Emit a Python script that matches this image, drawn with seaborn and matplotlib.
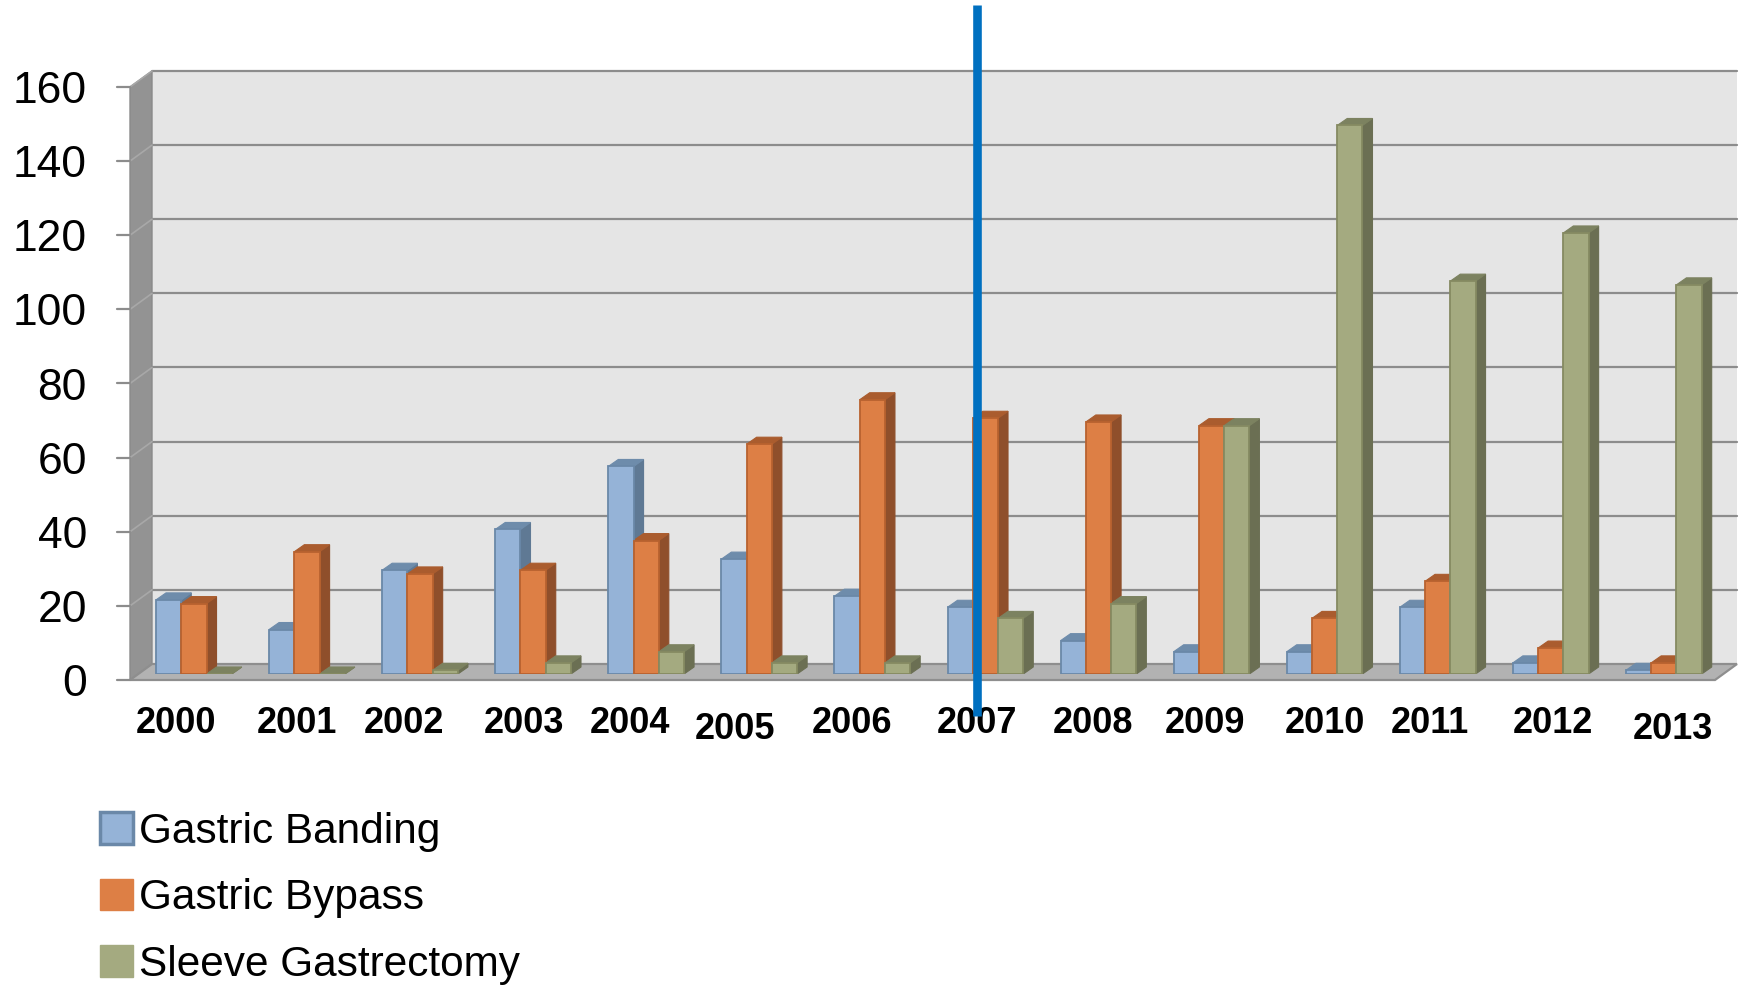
import matplotlib
matplotlib.use("Agg")
import matplotlib.pyplot as plt
from matplotlib.patches import Polygon, Patch
from matplotlib.transforms import ScaledTranslation
import seaborn as sns
import pandas as pd

# ---- data -------------------------------------------------------------
years = ["2000", "2001", "2002", "2003", "2004", "2005", "2006",
         "2007", "2008", "2009", "2010", "2011", "2012", "2013"]
procedures = ["Gastric Banding", "Gastric Bypass", "Sleeve Gastrectomy"]
banding = [20, 12, 28, 39, 56, 31, 21, 18, 9, 6, 6, 18, 3, 1]
bypass = [19, 33, 27, 28, 36, 62, 74, 69, 68, 67, 15, 25, 7, 3]
sleeve = [0, 0, 1, 3, 6, 3, 3, 15, 19, 67, 148, 106, 119, 105]
y_ticks = [0, 20, 40, 60, 80, 100, 120, 140, 160]
marker_year = "2007"

# ---- styling ----------------------------------------------------------
front_colors = ["#95b3d7", "#dd7f45", "#a4aa80"]
edge_colors = ["#6a88a8", "#b8622f", "#858a62"]
side_colors = ["#5f7994", "#8f4f2b", "#6b6f53"]
top_colors = ["#6e8cab", "#aa5c2e", "#7c8260"]
# hand-placed nudges of the year labels (pixels: right, up)
label_nudge_x = [-10, -2, -8, -1, -8, -16, -12, 0, 3, 1, 8, 0, 10, 17]
label_nudge_y = [0, 0, 0, 0, 0, -6, 0, 0, 0, 0, 0, 0, 0, -6]

sns.set_style("white")
plt.rcParams["font.family"] = ["Liberation Sans", "DejaVu Sans"]
plt.rcParams["text.color"] = "black"

W, H, DPI = 1740, 988, 100
fig = plt.figure(figsize=(W / DPI, H / DPI), dpi=DPI)
fig.patch.set_facecolor("white")
ax = fig.add_axes([138 / W, 1 - 674 / H, 1585 / W, 593 / H])

df = pd.DataFrame({
    "year": years * 3,
    "count": banding + bypass + sleeve,
    "procedure": [p for p in procedures for _ in years],
})

sns.barplot(data=df, x="year", y="count", hue="procedure",
            order=years, hue_order=procedures,
            palette=dict(zip(procedures, front_colors)),
            saturation=1, width=0.67, dodge=True, legend=False,
            linewidth=1.3, ax=ax, zorder=3)

x0, x1 = -0.4944, 13.5235
ymax = y_ticks[-1]
ax.set_xlim(x0, x1)
ax.set_ylim(0, ymax)
ax.patch.set_visible(False)
for s in ax.spines.values():
    s.set_visible(False)
ax.grid(False)

# pixel -> data conversion for the pseudo 3-D depth
sx = (1585 / (x1 - x0))
sy = 593 / ymax
def px(dx, dy):
    return dx / sx, dy / sy

fdx, fdy = px(-8, -6)     # front plane
bdx, bdy = px(14, 10)     # back wall
ddx, ddy = px(10, 7)      # bar depth

wall_kw = dict(clip_on=False, zorder=0.5)
# back wall
ax.add_patch(Polygon([(x0 + bdx, bdy), (x1 + bdx, bdy),
                      (x1 + bdx, ymax + bdy), (x0 + bdx, ymax + bdy)],
                     closed=True, facecolor="#e5e5e5", edgecolor="none", **wall_kw))
# side wall
ax.add_patch(Polygon([(x0 + fdx, fdy), (x0 + fdx, ymax + fdy),
                      (x0 + bdx, ymax + bdy), (x0 + bdx, bdy)],
                     closed=True, facecolor="#939393", edgecolor="#8a8a8a",
                     linewidth=1, **wall_kw))
# gridlines on back wall + side wall
for v in y_ticks[1:]:
    ax.plot([x0 + bdx, x1 + bdx], [v + bdy, v + bdy], color="#8c8c8c",
            lw=1.6, clip_on=False, zorder=0.8)
    ax.plot([x0 + fdx, x0 + bdx], [v + fdy, v + bdy], color="#a8a8a8",
            lw=1.2, clip_on=False, zorder=0.8)
# floor
ax.add_patch(Polygon([(x0 + fdx, fdy), (x1 + fdx, fdy),
                      (x1 + bdx, bdy), (x0 + bdx, bdy)],
                     closed=True, facecolor="#b2b2b2", edgecolor="#8e8e8e",
                     linewidth=1.6, clip_on=False, zorder=0.9))
# front tick marks
tick_len, _ = px(13, 0)
for v in y_ticks:
    ax.plot([x0 + fdx - tick_len, x0 + fdx], [v + fdy, v + fdy],
            color="#8c8c8c", lw=1.6, clip_on=False, zorder=0.9)

# depth faces (side + top) built from each drawn bar
for container, sc, tc, ec in zip(ax.containers, side_colors, top_colors, edge_colors):
    for bar in container:
        bar.set_edgecolor(ec)
        bx, bw, bh = bar.get_x(), bar.get_width(), bar.get_height()
        side = Polygon([(bx + bw, 0), (bx + bw + ddx, ddy),
                        (bx + bw + ddx, bh + ddy), (bx + bw, bh)],
                       closed=True, facecolor=sc, edgecolor=sc,
                       linewidth=0.8, zorder=2.5)
        top = Polygon([(bx, bh), (bx + ddx, bh + ddy),
                       (bx + bw + ddx, bh + ddy), (bx + bw, bh)],
                      closed=True, facecolor=tc, edgecolor=tc,
                      linewidth=0.8, zorder=2.5)
        ax.add_patch(side)
        ax.add_patch(top)

# ---- ticks --------------------------------------------------------------
ax.set_yticks(y_ticks)
ax.set_yticklabels([str(v) for v in y_ticks], fontsize=32, color="black")
ax.set_xticks(range(len(years)))
ax.set_xticklabels(years, fontsize=26, fontweight="bold", color="black")
ax.tick_params(axis="both", length=0)
ax.tick_params(axis="y", pad=31)
ax.tick_params(axis="x", pad=19)
ax.set_xlabel("")
ax.set_ylabel("")
for lab in ax.get_yticklabels():
    lab.set_transform(lab.get_transform() +
                      ScaledTranslation(-8 / DPI, -6 / DPI, fig.dpi_scale_trans))
for lab, nx, ny in zip(ax.get_xticklabels(), label_nudge_x, label_nudge_y):
    lab.set_transform(lab.get_transform() +
                      ScaledTranslation((nx - 8) / DPI, (ny - 6) / DPI,
                                        fig.dpi_scale_trans))

# ---- vertical marker line -------------------------------------------------
mx = years.index(marker_year) + fdx
ax.plot([mx, mx], [-0.071, 1.128], transform=ax.get_xaxis_transform(),
        color="#0070c0", lw=6.2, clip_on=False, zorder=10,
        solid_capstyle="butt")

# ---- legend ---------------------------------------------------------------
handles = [Patch(facecolor=front_colors[0], edgecolor=edge_colors[0], linewidth=2.5),
           Patch(facecolor=front_colors[1], edgecolor=front_colors[1]),
           Patch(facecolor=front_colors[2], edgecolor=front_colors[2])]
leg = fig.legend(handles, procedures, loc="upper left",
                 bbox_to_anchor=(100 / W, 1 - 812 / H), frameon=False,
                 fontsize=30.5, handlelength=0.78, handleheight=0.78,
                 handletextpad=0.15, labelspacing=0.62, borderpad=0,
                 borderaxespad=0)
for t in leg.get_texts():
    t.set_color("black")

fig.savefig("out.png", dpi=DPI, facecolor="white")
